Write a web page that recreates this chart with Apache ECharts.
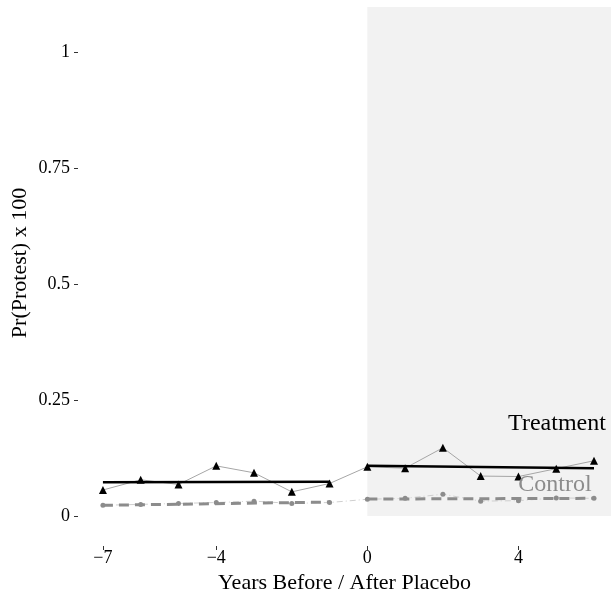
<!DOCTYPE html>
<html>
<head>
<meta charset="utf-8">
<script src="https://cdn.jsdelivr.net/npm/echarts@6/dist/echarts.min.js"></script>
<style>html,body{margin:0;padding:0;background:#fff}#c{width:611px;height:595px}</style>
</head>
<body>
<div id="c"></div>
<script>
var years = [-7, -6, -5, -4, -3, -2, -1, 0, 1, 2, 3, 4, 5, 6];
var treatment = [0.056, 0.078, 0.068, 0.108, 0.093, 0.052, 0.070, 0.106, 0.103, 0.147, 0.086, 0.085, 0.102, 0.119];
var control = [0.023, 0.025, 0.027, 0.029, 0.032, 0.027, 0.029, 0.036, 0.038, 0.047, 0.032, 0.033, 0.039, 0.038];
var treatPreFit = [[-7, 0.0725], [-1, 0.074]];
var treatPostFit = [[0, 0.108], [6, 0.103]];
var controlPreFit = [[-7, 0.023], [-1, 0.030]];
var controlPostFit = [[0, 0.0365], [6, 0.038]];
var xTicks = [-7, -4, 0, 4];
var yTicks = [0, 0.25, 0.5, 0.75, 1];
var shadeX = [0, 6.45];
var shadeY = [0, 1.097];

var font = 'Liberation Serif';
var chart = echarts.init(document.getElementById('c'), null, {renderer: 'canvas'});
function pairs(xs, ys) { return xs.map(function (x, i) { return [x, ys[i]]; }); }

chart.setOption({
  animation: false,
  grid: {left: 78, right: 0, top: 0, bottom: 49, containLabel: false, outerBoundsMode: 'none'},
  xAxis: {
    type: 'value', min: -7.66, max: 6.45,
    axisLine: {show: false, onZero: false},
    splitLine: {show: false},
    axisTick: {show: true, customValues: xTicks, length: 4, lineStyle: {color: '#333', width: 1}},
    axisLabel: {customValues: xTicks, margin: 3, color: '#000', fontFamily: font, fontSize: 18,
      formatter: function (v) { return String(v).replace('-', '\u2212'); }},
    name: 'Years Before / After Placebo', nameLocation: 'middle', nameGap: 20,
    nameTextStyle: {color: '#000', fontFamily: font, fontSize: 22}
  },
  yAxis: {
    type: 'value', min: -0.0647, max: 1.112,
    axisLine: {show: false, onZero: false},
    splitLine: {show: false},
    axisTick: {show: true, customValues: yTicks, length: 4, lineStyle: {color: '#333', width: 1}},
    axisLabel: {customValues: yTicks, margin: 8, color: '#000', fontFamily: font, fontSize: 18}
  },
  graphic: [
    {type: 'text', x: 20, y: 263, rotation: Math.PI / 2, z: 100,
      style: {text: 'Pr(Protest) x 100', font: '22px "Liberation Serif"', fill: '#000', align: 'center', verticalAlign: 'middle'}},
    {type: 'text', x: 557, y: 424, z: 100,
      style: {text: 'Treatment', font: '24px "Liberation Serif"', fill: '#000', align: 'center', verticalAlign: 'middle'}},
    {type: 'text', x: 555, y: 485, z: 100,
      style: {text: 'Control', font: '24px "Liberation Serif"', fill: '#8c8c8c', align: 'center', verticalAlign: 'middle'}}
  ],
  series: [
    {type: 'line', data: pairs(years, control), symbol: 'circle', symbolSize: 5,
      itemStyle: {color: '#8c8c8c'}, lineStyle: {color: '#cfcfcf', width: 1, type: [6, 3, 1, 3]}, z: 3,
      markArea: {silent: true, itemStyle: {color: '#f2f2f2'},
        data: [[{coord: [shadeX[0], shadeY[0]]}, {coord: [shadeX[1], shadeY[1]]}]]}},
    {type: 'line', data: controlPreFit, symbol: 'none', lineStyle: {color: '#8c8c8c', width: 3, type: [10, 6]}, z: 4},
    {type: 'line', data: controlPostFit, symbol: 'none', lineStyle: {color: '#8c8c8c', width: 3, type: [10, 6]}, z: 4},
    {type: 'line', data: pairs(years, treatment), symbol: 'triangle', symbolSize: 8,
      itemStyle: {color: '#000'}, lineStyle: {color: '#a6a6a6', width: 1}, z: 5},
    {type: 'line', data: treatPreFit, symbol: 'none', lineStyle: {color: '#000', width: 2.5}, z: 6},
    {type: 'line', data: treatPostFit, symbol: 'none', lineStyle: {color: '#000', width: 2.5}, z: 6}
  ]
});
</script>
</body>
</html>
